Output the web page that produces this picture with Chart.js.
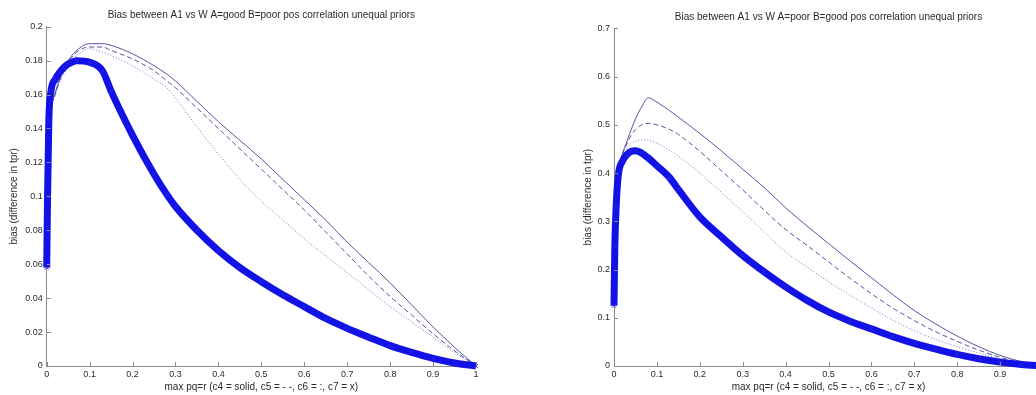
<!DOCTYPE html>
<html>
<head>
<meta charset="utf-8">
<script src="https://cdn.jsdelivr.net/npm/chart.js@4.4.1/dist/chart.umd.min.js"></script>
<style>
  html, body { margin: 0; padding: 0; background: #fff; overflow: hidden; width: 1036px; height: 395px; }
  #wrap { position: relative; width: 1036px; height: 395px; overflow: hidden; }
  .box { position: absolute; top: 0; height: 395px; }
  #leftBox { left: 0; width: 520px; }
  #rightBox { left: 568px; width: 492px; }
</style>
</head>
<body>
<div id="wrap">
  <div class="box" id="leftBox"><canvas id="leftChart" width="520" height="395"></canvas></div>
  <div class="box" id="rightBox"><canvas id="rightChart" width="492" height="395"></canvas></div>
</div>
<script>
// tick labels
const xTicks = [0, 0.1, 0.2, 0.3, 0.4, 0.5, 0.6, 0.7, 0.8, 0.9, 1];
const leftYTicks = [0, 0.02, 0.04, 0.06, 0.08, 0.1, 0.12, 0.14, 0.16, 0.18, 0.2];
const rightYTicks = [0, 0.1, 0.2, 0.3, 0.4, 0.5, 0.6, 0.7];

// left panel: A=good B=poor
const leftX  = [0, 0.002, 0.005, 0.01, 0.02, 0.03, 0.04, 0.05, 0.07, 0.1, 0.13, 0.15, 0.2, 0.25, 0.28, 0.3, 0.35, 0.4, 0.45, 0.5, 0.55, 0.6, 0.65, 0.7, 0.75, 0.8, 0.85, 0.9, 0.95, 1];
const leftC4 = [0.06, 0.1, 0.13, 0.15, 0.161, 0.169, 0.175, 0.18, 0.186, 0.19, 0.19, 0.189, 0.184, 0.177, 0.172, 0.168, 0.156, 0.144, 0.133, 0.122, 0.11, 0.098, 0.086, 0.073, 0.061, 0.049, 0.036, 0.023, 0.011, 0];
const leftC5 = [0.06, 0.1, 0.13, 0.15, 0.16, 0.168, 0.174, 0.179, 0.185, 0.188, 0.188, 0.186, 0.181, 0.174, 0.168, 0.164, 0.152, 0.14, 0.128, 0.116, 0.104, 0.092, 0.079, 0.066, 0.053, 0.041, 0.03, 0.019, 0.009, 0];
const leftC6 = [0.06, 0.1, 0.13, 0.15, 0.16, 0.167, 0.172, 0.177, 0.183, 0.187, 0.185, 0.183, 0.177, 0.169, 0.164, 0.158, 0.141, 0.125, 0.11, 0.097, 0.086, 0.075, 0.065, 0.055, 0.045, 0.035, 0.026, 0.017, 0.008, 0];
const leftC7 = [0.058, 0.1, 0.145, 0.162, 0.169, 0.173, 0.176, 0.178, 0.18, 0.179, 0.174, 0.162, 0.136, 0.113, 0.101, 0.094, 0.08, 0.068, 0.058, 0.0497, 0.042, 0.035, 0.028, 0.0222, 0.017, 0.012, 0.008, 0.0045, 0.0018, 0];

// right panel: A=poor B=good
const rightX  = [0, 0.002, 0.005, 0.01, 0.02, 0.03, 0.04, 0.05, 0.065, 0.08, 0.1, 0.13, 0.15, 0.2, 0.25, 0.3, 0.35, 0.4, 0.45, 0.5, 0.55, 0.6, 0.65, 0.7, 0.75, 0.8, 0.85, 0.9, 0.95, 1];
const rightC4 = [0.125, 0.25, 0.33, 0.4, 0.44, 0.465, 0.49, 0.512, 0.538, 0.556, 0.547, 0.529, 0.516, 0.482, 0.446, 0.408, 0.37, 0.328, 0.29, 0.254, 0.218, 0.183, 0.148, 0.115, 0.087, 0.062, 0.04, 0.022, 0.009, 0];
const rightC5 = [0.125, 0.25, 0.33, 0.4, 0.44, 0.46, 0.478, 0.49, 0.5, 0.503, 0.5, 0.49, 0.48, 0.445, 0.405, 0.365, 0.323, 0.283, 0.25, 0.216, 0.182, 0.15, 0.12, 0.094, 0.071, 0.051, 0.033, 0.018, 0.007, 0];
const rightC6 = [0.125, 0.25, 0.33, 0.4, 0.44, 0.452, 0.461, 0.466, 0.469, 0.468, 0.462, 0.447, 0.435, 0.4, 0.36, 0.32, 0.278, 0.237, 0.205, 0.175, 0.147, 0.12, 0.095, 0.073, 0.055, 0.04, 0.027, 0.015, 0.006, 0];
const rightC7 = [0.125, 0.25, 0.33, 0.395, 0.425, 0.438, 0.445, 0.446, 0.441, 0.431, 0.415, 0.39, 0.366, 0.309, 0.268, 0.229, 0.195, 0.164, 0.136, 0.112, 0.093, 0.077, 0.061, 0.047, 0.035, 0.024, 0.015, 0.008, 0.003, 0];

const FONT = "'Liberation Sans', Arial, sans-serif";
const TEXT = "#2a2a2a";
const AXIS = "#8c8c8c";

const pairs = (xs, ys) => xs.map((x, i) => ({ x, y: ys[i] }));

// inward tick marks + plot title
const axisDecor = {
  id: "axisDecor",
  afterDraw(chart, args, opts) {
    const { ctx, chartArea, scales } = chart;
    ctx.save();
    ctx.strokeStyle = AXIS;
    ctx.lineWidth = 1;
    ctx.beginPath();
    scales.x.ticks.forEach(t => {
      const px = Math.round(scales.x.getPixelForValue(t.value)) + 0.5;
      ctx.moveTo(px, chartArea.bottom);
      ctx.lineTo(px, chartArea.bottom - 4);
    });
    scales.y.ticks.forEach(t => {
      const py = Math.round(scales.y.getPixelForValue(t.value)) + 0.5;
      ctx.moveTo(chartArea.left, py);
      ctx.lineTo(chartArea.left + 4, py);
    });
    ctx.stroke();
    ctx.fillStyle = TEXT;
    ctx.font = "10px " + FONT;
    ctx.textAlign = "center";
    ctx.textBaseline = "middle";
    ctx.fillText(opts.text, (chartArea.left + chartArea.right) / 2, opts.y);
    ctx.restore();
  }
};

function makeChart(id, p) {
  const ctx = document.getElementById(id).getContext("2d");
  const thin = (label, ys, dash, color) => ({
    label,
    data: pairs(p.xs, ys),
    borderColor: color,
    borderWidth: 1,
    borderDash: dash,
    pointRadius: 0,
    cubicInterpolationMode: "monotone"
  });
  return new Chart(ctx, {
    type: "line",
    data: {
      datasets: [
        {
          label: "c7",
          data: pairs(p.xs, p.c7),
          borderColor: "#1212e6",
          borderWidth: 7,
          pointStyle: "crossRot",
          pointRadius: 3,
          pointBorderWidth: 1,
          pointBorderColor: "rgba(40,40,220,0.85)",
          cubicInterpolationMode: "monotone",
          clip: 8
        },
        thin("c4", p.c4, [], "rgba(55,55,150,0.85)"),
        thin("c5", p.c5, [5, 3], "rgba(55,55,150,0.85)"),
        thin("c6", p.c6, [1, 2], "rgba(90,90,190,0.85)")
      ]
    },
    options: {
      responsive: false,
      animation: false,
      layout: { padding: { top: p.padTop, right: p.padRight, left: 0, bottom: 0 } },
      plugins: {
        legend: { display: false },
        tooltip: { enabled: false },
        axisDecor: { text: p.title, y: p.titleY }
      },
      scales: {
        x: {
          type: "linear",
          min: 0,
          max: 1,
          afterBuildTicks: s => { s.ticks = xTicks.map(v => ({ value: v })); },
          afterFit: s => { s.height = 29; },
          ticks: { callback: v => String(v), font: { family: FONT, size: 9 }, color: TEXT, padding: 3, maxRotation: 0, autoSkip: false },
          grid: { display: false, drawTicks: false },
          border: { color: AXIS },
          title: { display: true, text: "max pq=r (c4 = solid, c5 = - -, c6 = :, c7 = x)", font: { family: FONT, size: 10 }, color: TEXT, padding: { top: 0, bottom: 1.5 } }
        },
        y: {
          type: "linear",
          min: 0,
          max: p.yMax,
          afterBuildTicks: s => { s.ticks = p.yTicks.map(v => ({ value: v })); },
          afterFit: s => { s.width = p.yWidth; },
          ticks: { callback: v => String(+v.toFixed(2)), font: { family: FONT, size: 9 }, color: TEXT, padding: 4, autoSkip: false },
          grid: { display: false, drawTicks: false },
          border: { color: AXIS },
          title: { display: true, text: "bias (difference in tpr)", font: { family: FONT, size: 10 }, color: TEXT, padding: { top: p.yTitlePad, bottom: 0 } }
        }
      }
    },
    plugins: [axisDecor]
  });
}

makeChart("leftChart", {
  xs: leftX, c4: leftC4, c5: leftC5, c6: leftC6, c7: leftC7,
  yTicks: leftYTicks, yMax: 0.2,
  title: "Bias between A1 vs W A=good B=poor pos correlation unequal priors", titleY: 15.5,
  padTop: 26.7, padRight: 44, yWidth: 46.7, yTitlePad: 8
});

makeChart("rightChart", {
  xs: rightX, c4: rightC4, c5: rightC5, c6: rightC6, c7: rightC7,
  yTicks: rightYTicks, yMax: 0.7,
  title: "Bias between A1 vs W A=poor B=good pos correlation unequal priors", titleY: 17.3,
  padTop: 28.3, padRight: 17, yWidth: 46, yTitlePad: 14
});
</script>
</body>
</html>
